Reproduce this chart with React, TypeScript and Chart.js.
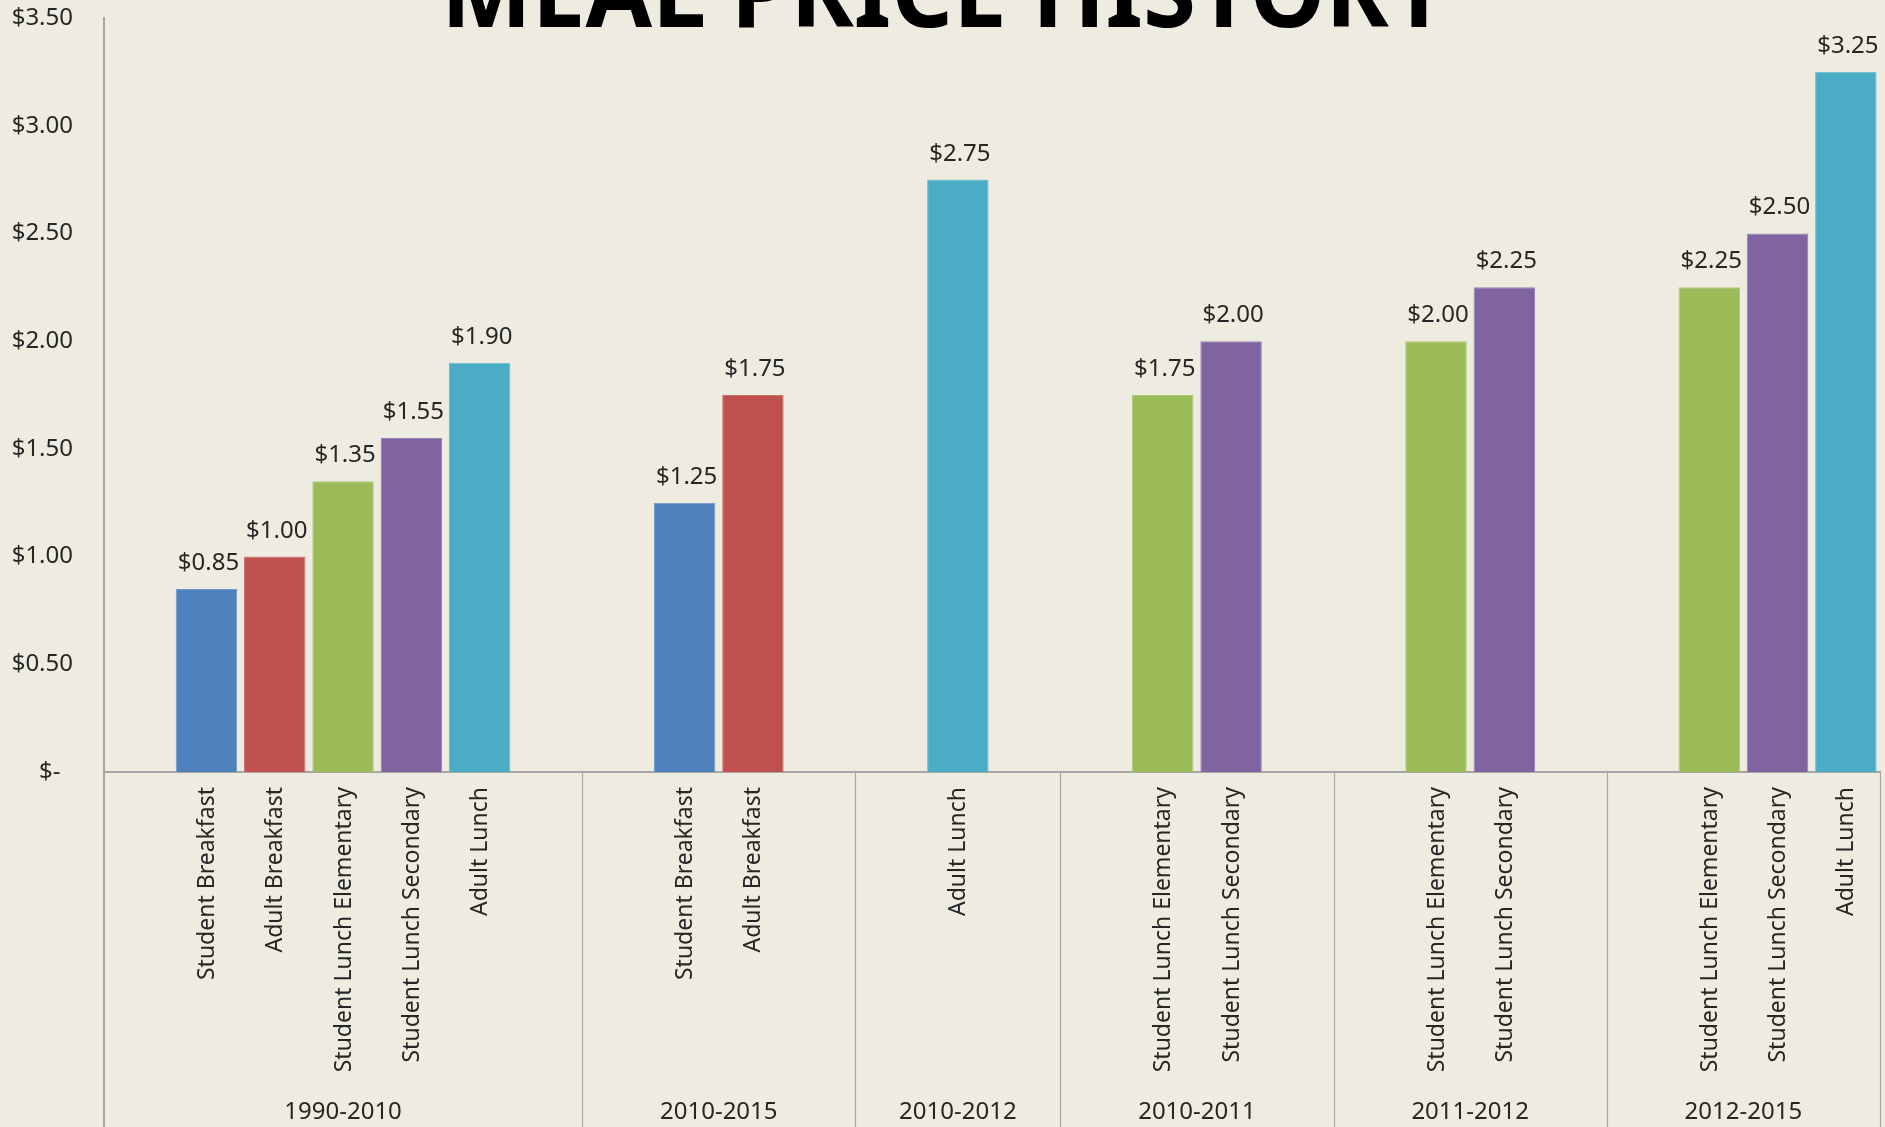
import React, { useEffect, useRef } from 'react';
import { Chart, registerables } from 'chart.js';

Chart.register(...registerables);

// ---- Data ----
const chartTitle = 'MEAL PRICE HISTORY';
const periods = ['1990-2010', '2010-2015', '2010-2012', '2010-2011', '2011-2012', '2012-2015'];
const mealLabels = [
  'Student Breakfast', 'Adult Breakfast', 'Student Lunch Elementary', 'Student Lunch Secondary', 'Adult Lunch',
  'Student Breakfast', 'Adult Breakfast',
  'Adult Lunch',
  'Student Lunch Elementary', 'Student Lunch Secondary',
  'Student Lunch Elementary', 'Student Lunch Secondary',
  'Student Lunch Elementary', 'Student Lunch Secondary', 'Adult Lunch',
];
const mealPrices = [
  0.85, 1.0, 1.35, 1.55, 1.9,
  1.25, 1.75,
  2.75,
  1.75, 2.0,
  2.0, 2.25,
  2.25, 2.5, 3.25,
];
const mealPeriodIndex = [0, 0, 0, 0, 0, 1, 1, 2, 3, 3, 4, 4, 5, 5, 5];
const leadingBlankSlots = [1, 1, 1, 1, 1, 1];
const trailingBlankSlots = [1, 1, 1, 1, 1, 0];
const mealTypes = ['Student Breakfast', 'Adult Breakfast', 'Student Lunch Elementary', 'Student Lunch Secondary', 'Adult Lunch'];
const mealTypeColors = ['#4F81BD', '#C0504D', '#9BBB59', '#8064A2', '#4BACC6'];
const yMin = 0;
const yMax = 3.5;
const yStep = 0.5;

// ---- Styles ----
const BG = '#EEECE1';
const AXIS = '#A6A6A6';
const TEXT = '#262626';
const FONT = '"Noto Sans", "Open Sans", sans-serif';

function lighten(hex: string, amt: number) {
  const n = parseInt(hex.slice(1), 16);
  const r = (n >> 16) & 255, g = (n >> 8) & 255, b = n & 255;
  const f = (c: number) => Math.round(c + (255 - c) * amt);
  return `rgb(${f(r)},${f(g)},${f(b)})`;
}

type Slot = { label: string; value: number | null; period: number };
function buildSlots(): Slot[] {
  const slots: Slot[] = [];
  periods.forEach((_, p) => {
    for (let k = 0; k < leadingBlankSlots[p]; k++) slots.push({ label: '', value: null, period: p });
    mealLabels.forEach((m, i) => {
      if (mealPeriodIndex[i] === p) slots.push({ label: m, value: mealPrices[i], period: p });
    });
    for (let k = 0; k < trailingBlankSlots[p]; k++) slots.push({ label: '', value: null, period: p });
  });
  return slots;
}

export default function App() {
  const ref = useRef<HTMLCanvasElement | null>(null);

  useEffect(() => {
    const canvas = ref.current!;
    const slots = buildSlots();
    const colors = slots.map((s) => {
      const t = mealTypes.indexOf(s.label);
      return t >= 0 ? mealTypeColors[t] : 'transparent';
    });
    const borders = slots.map((s) => {
      const t = mealTypes.indexOf(s.label);
      return t >= 0 ? lighten(mealTypeColors[t], 0.18) : 'transparent';
    });

    const bgPlugin = {
      id: 'bg',
      beforeDraw(chart: any) {
        const c = chart.ctx;
        c.save();
        c.fillStyle = BG;
        c.fillRect(0, 0, chart.width, chart.height);
        c.restore();
      },
    };

    const labelsPlugin = {
      id: 'customLabels',
      afterDatasetsDraw(chart: any) {
        const c = chart.ctx;
        const meta = chart.getDatasetMeta(0);
        c.save();
        c.fillStyle = TEXT;
        c.font = `24px ${FONT}`;
        c.textAlign = 'center';
        c.textBaseline = 'alphabetic';
        meta.data.forEach((el: any, i: number) => {
          const v = slots[i].value;
          if (v == null) return;
          c.fillText('$' + v.toFixed(2), el.x + 2, el.y - 19);
        });
        c.restore();
      },
      afterDraw(chart: any) {
        const c = chart.ctx;
        const xs = chart.scales.x;
        const area = chart.chartArea;
        const slotW = xs.getPixelForValue(1) - xs.getPixelForValue(0);
        const bottom = chart.height;
        c.save();
        c.strokeStyle = AXIS;
        c.lineWidth = 2;
        c.beginPath();
        c.moveTo(area.left, area.bottom);
        c.lineTo(area.left, bottom);
        c.stroke();
        c.lineWidth = 1.2;
        let start = 0;
        const bounds: number[] = [];
        periods.forEach((_, p) => {
          const count = slots.filter((s) => s.period === p).length;
          bounds.push(xs.getPixelForValue(start) - slotW / 2);
          start += count;
        });
        bounds.push(xs.getPixelForValue(start - 1) + slotW / 2);
        bounds.forEach((bx, k) => {
          if (k === 0) return;
          c.beginPath();
          c.moveTo(Math.round(bx) + 0.5, area.bottom);
          c.lineTo(Math.round(bx) + 0.5, bottom);
          c.stroke();
        });
        // rotated meal labels
        c.fillStyle = TEXT;
        c.font = `23px ${FONT}`;
        c.textAlign = 'right';
        c.textBaseline = 'middle';
        slots.forEach((s, i) => {
          if (!s.label) return;
          const x = xs.getPixelForValue(i);
          c.save();
          c.translate(x + 1, area.bottom + 15);
          c.rotate(-Math.PI / 2);
          c.fillText(s.label, 0, 0);
          c.restore();
        });
        // period labels
        c.textAlign = 'center';
        c.textBaseline = 'middle';
        c.font = `24px ${FONT}`;
        periods.forEach((p, k) => {
          const cx = (bounds[k] + bounds[k + 1]) / 2;
          c.fillText(p, cx, 1112);
        });
        // title (cut off at top)
        c.fillStyle = '#000000';
        c.font = `bold 100px ${FONT}`;
        c.textAlign = 'left';
        c.textBaseline = 'alphabetic';
        const w = c.measureText(chartTitle).width;
        const targetW = 1008;
        c.translate(441, 27);
        c.scale(targetW / w, 1);
        c.fillText(chartTitle, 0, 0);
        c.restore();
      },
    };

    const chart = new Chart(canvas, {
      type: 'bar',
      data: {
        labels: slots.map((s) => s.label),
        datasets: [
          {
            data: slots.map((s) => s.value) as any,
            backgroundColor: colors,
            borderColor: borders,
            borderWidth: 1,
            categoryPercentage: 1,
            barPercentage: 0.9,
          },
        ],
      },
      options: {
        responsive: false,
        animation: false,
        devicePixelRatio: 1,
        layout: { padding: { top: 18, right: 5, left: 0, bottom: 0 } },
        plugins: { legend: { display: false }, tooltip: { enabled: false }, title: { display: false } },
        scales: {
          x: {
            grid: { display: false, drawTicks: false, tickLength: 0 },
            border: { display: true, color: AXIS, width: 2 },
            ticks: { display: false },
            afterFit: (s: any) => {
              s.height = 1127 - 772;
              s.paddingLeft = 0;
              s.paddingRight = 0;
            },
          },
          y: {
            min: yMin,
            max: yMax,
            grid: { display: false, drawTicks: false, tickLength: 0 },
            border: { display: true, color: AXIS, width: 2 },
            ticks: {
              stepSize: yStep,
              padding: 31,
              color: TEXT,
              font: { family: FONT, size: 24 },
              callback: (v: any) => (Number(v) === 0 ? '$-  ' : '$' + Number(v).toFixed(2)),
            },
            afterFit: (s: any) => {
              s.width = 104;
              s.paddingTop = 0;
              s.paddingBottom = 0;
            },
          },
        },
      },
      plugins: [bgPlugin, labelsPlugin],
    });
    return () => chart.destroy();
  }, []);

  return (
    <div style={{ position: 'fixed', left: 0, top: 0, width: 1885, height: 1127, background: BG, overflow: 'hidden' }}>
      <canvas ref={ref} width={1885} height={1127} style={{ display: 'block', width: 1885, height: 1127 }} />
    </div>
  );
}
